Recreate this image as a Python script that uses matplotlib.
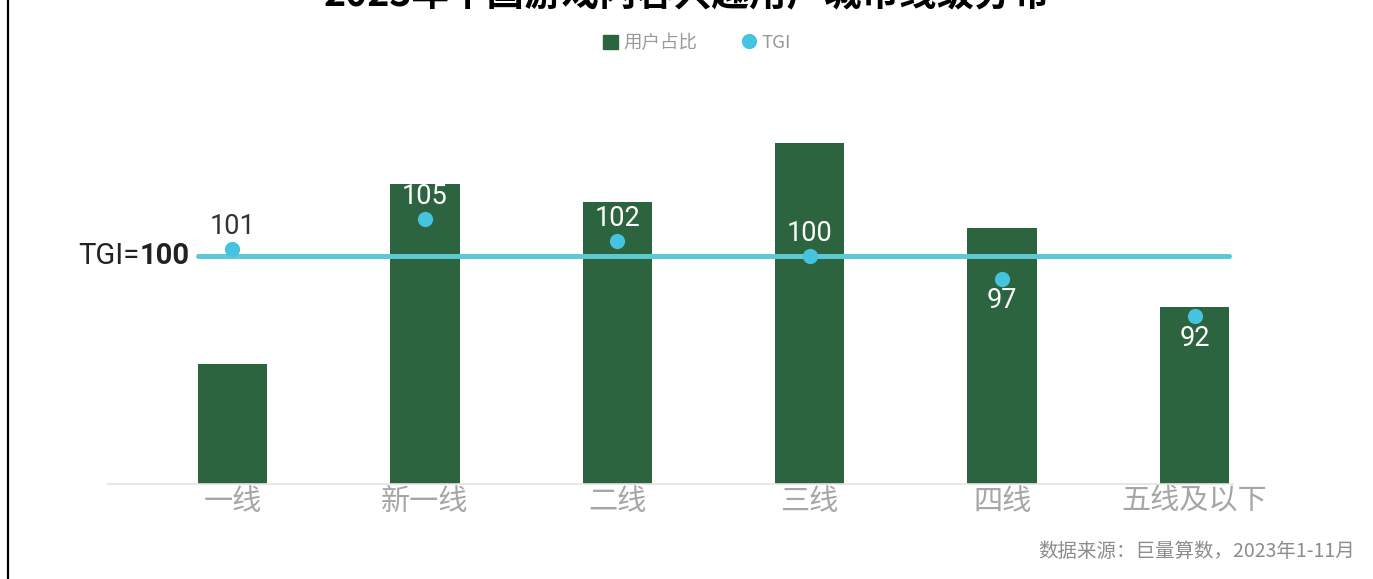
import matplotlib.pyplot as plt
from matplotlib.patches import Patch
from matplotlib.lines import Line2D

plt.rcParams['font.family'] = ['Noto Sans CJK SC', 'DejaVu Sans']

# city tiers, user share (%) and TGI
tiers = ['一线', '新一线', '二线', '三线', '四线', '五线及以下']
share = [8.1, 20.3, 19.1, 23.1, 17.3, 12.0]
tgi = [101, 105, 102, 100, 97, 92]
label_colors = ['#333333', 'white', 'white', 'white', 'white', 'white']

bar_color = '#2D6440'
dot_color = '#45C3DF'
line_color = '#5CC9D4'
num_font = ['Roboto', 'DejaVu Sans']

W, H = 1373, 579
fig = plt.figure(figsize=(W / 100, H / 100), dpi=100)
ax = fig.add_axes([108 / W, 1 - 484 / H, (1233 - 108) / W, (484 - 100) / H])

x = list(range(len(tiers)))
ax.bar(x, share, width=0.36, color=bar_color, zorder=2)
ax.set_xlim(-0.647, 5.2)
ax.set_ylim(0, 25.98)
ax.set_xticks(x)
ax.set_xticklabels(tiers, fontsize=21, color='#A6A6A6')
ax.tick_params(axis='x', length=0, pad=2)
ax.set_yticks([])
for s in ['top', 'left', 'right']:
    ax.spines[s].set_visible(False)
ax.spines['bottom'].set_color('#E3E3E3')
ax.spines['bottom'].set_linewidth(1.2)

# TGI on a second axis sharing the same x positions
ax2 = ax.twinx()
ax2.set_ylim(69.6, 120.8)
ax2.set_yticks([])
for s in ax2.spines.values():
    s.set_visible(False)
ax2.plot([-0.18, 5.18], [100, 100], color=line_color, lw=3.6,
         solid_capstyle='round', zorder=3)
ax2.scatter(x, tgi, s=120, color=dot_color, zorder=4, linewidths=0)
for xi, v, c in zip(x, tgi, label_colors):
    off = 16 if v >= 100 else -16
    ax2.annotate(str(v), (xi, v), xytext=(0, off), textcoords='offset points',
                 ha='center', va='center', fontsize=19.5, color=c,
                 family=num_font, zorder=5)

# reference label for the TGI=100 line
t100 = ax2.annotate('100', (-0.18, 100), xytext=(-6, 0),
                    textcoords='offset points', ha='right', va='center',
                    fontsize=21, color='#222222', fontweight='bold',
                    family=num_font, annotation_clip=False)
ax2.annotate('TGI=', (0, 0.5), xycoords=t100, ha='right', va='center',
             fontsize=21, color='#222222', family=num_font)

fig.text(0.5, 1 - 6 / H, '2023年中国游戏内容兴趣用户城市线级分布',
         ha='center', va='baseline', fontsize=27, fontweight='bold',
         color='black')

handles = [Patch(color=bar_color, label='用户占比'),
           Line2D([], [], marker='o', ls='none', markersize=11,
                  markerfacecolor=dot_color, markeredgewidth=0, label='TGI')]
leg = fig.legend(handles=handles, loc='center', ncol=2,
                 bbox_to_anchor=(697 / W, 1 - 43 / H), frameon=False,
                 fontsize=13.3, handlelength=0.8, handleheight=0.8,
                 handletextpad=0.3, columnspacing=2.4)
for t in leg.get_texts():
    t.set_color('#999999')

fig.text(1355 / W, 1 - 551 / H, '数据来源：巨量算数，2023年1-11月',
         ha='right', va='center', fontsize=14, color='#8C8C8C')

# left frame edge
fig.add_artist(Line2D([8 / W, 8 / W], [0, 1], color='black', lw=1.6,
                      transform=fig.transFigure))

fig.savefig('out.png', dpi=100)
